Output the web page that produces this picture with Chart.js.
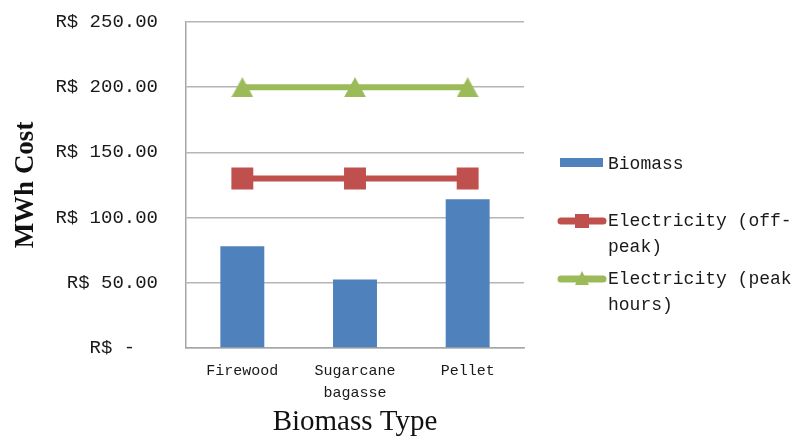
<!DOCTYPE html>
<html>
<head>
<meta charset="utf-8">
<script src="https://cdn.jsdelivr.net/npm/chart.js@4"></script>
<style>
  html, body { margin: 0; padding: 0; background: #ffffff; }
  #wrap { width: 804px; height: 437px; }
</style>
</head>
<body>
<div id="wrap"><canvas id="c" width="804" height="437"></canvas></div>
<script>
// ---- data ----
const categories = [["Firewood"], ["Sugarcane", "bagasse"], ["Pellet"]];
const biomassCost = [78, 52.5, 114];
const offPeakCost = [130, 130, 130];
const peakCost = [200, 200, 200];
const seriesLabels = ["Biomass", "Electricity (off-peak)", "Electricity (peak hours)"];
const legendLines = [["Biomass"], ["Electricity (off-", "peak)"], ["Electricity (peak", "hours)"]];
const yTickMin = 0, yTickMax = 250, yTickStep = 50;
const yAxisTitle = "MWh Cost";
const xAxisTitle = "Biomass Type";

const BLUE = "#4F81BD", RED = "#C0504D", GREEN = "#9BBB59";

// triangle marker with its bounding box centred on the value
function triangleCanvas(w, h, color) {
  const cv = document.createElement("canvas");
  cv.width = w; cv.height = h;
  const g = cv.getContext("2d");
  g.fillStyle = color;
  g.beginPath();
  g.moveTo(w / 2, 0);
  g.lineTo(w, h);
  g.lineTo(0, h);
  g.closePath();
  g.fill();
  return cv;
}
const tri = triangleCanvas(22, 20, GREEN);

const legendPlugin = {
  id: "customLegend",
  afterDraw(chart) {
    const ctx = chart.ctx;
    ctx.save();
    ctx.font = "18px 'Liberation Mono', monospace";
    ctx.fillStyle = "#1a1a1a";
    ctx.textBaseline = "middle";
    ctx.textAlign = "left";
    const textX = 608;
    const items = [
      { y: 164, kind: "bar", color: BLUE, lines: legendLines[0] },
      { y: 221, kind: "rect", color: RED, lines: legendLines[1] },
      { y: 279, kind: "tri", color: GREEN, lines: legendLines[2] }
    ];
    items.forEach(it => {
      if (it.kind === "bar") {
        ctx.fillStyle = it.color;
        ctx.fillRect(560, it.y - 6, 43, 9);
      } else {
        ctx.strokeStyle = it.color;
        ctx.lineWidth = 7;
        ctx.lineCap = "round";
        ctx.beginPath();
        ctx.moveTo(561, it.y);
        ctx.lineTo(603, it.y);
        ctx.stroke();
        ctx.fillStyle = it.color;
        if (it.kind === "rect") {
          ctx.fillRect(575, it.y - 7, 14, 14);
        } else {
          ctx.beginPath();
          ctx.moveTo(582, it.y - 8);
          ctx.lineTo(589, it.y + 6);
          ctx.lineTo(575, it.y + 6);
          ctx.closePath();
          ctx.fill();
        }
      }
      ctx.fillStyle = "#1a1a1a";
      it.lines.forEach((t, i) => ctx.fillText(t, textX, it.y + i * 26));
    });
    ctx.restore();
  }
};

new Chart(document.getElementById("c"), {
  data: {
    labels: categories,
    datasets: [
      {
        type: "line",
        label: seriesLabels[2],
        data: peakCost,
        borderColor: GREEN,
        backgroundColor: GREEN,
        borderWidth: 6,
        pointStyle: tri,
        pointRadius: 10,
        order: 1
      },
      {
        type: "line",
        label: seriesLabels[1],
        data: offPeakCost,
        borderColor: RED,
        backgroundColor: RED,
        borderWidth: 6,
        pointStyle: "rect",
        pointRadius: 15.5,
        pointBorderWidth: 0,
        pointBorderColor: RED,
        pointBackgroundColor: RED,
        order: 2
      },
      {
        type: "bar",
        label: seriesLabels[0],
        data: biomassCost,
        backgroundColor: BLUE,
        borderWidth: 0,
        categoryPercentage: 1,
        barPercentage: 0.39,
        order: 3
      }
    ]
  },
  options: {
    responsive: false,
    animation: false,
    devicePixelRatio: 1,
    layout: { autoPadding: false, padding: { top: 22, right: 280, left: 0, bottom: 0 } },
    plugins: { legend: { display: false }, tooltip: { enabled: false } },
    scales: {
      x: {
        grid: { display: false },
        border: { display: true, color: "#a6a6a6", width: 1.5 },
        ticks: {
          font: { family: "'Liberation Mono', monospace", size: 15, lineHeight: "22px" },
          color: "#1a1a1a",
          padding: 4,
          maxRotation: 0,
          autoSkip: false
        },
        title: {
          display: true,
          text: xAxisTitle,
          font: { family: "'Liberation Serif', serif", size: 29, lineHeight: 1 },
          color: "#111",
          padding: { top: 0, bottom: 0 }
        },
        afterFit(scale) { scale.height = 89; }
      },
      y: {
        min: yTickMin,
        max: yTickMax,
        grid: { color: "#b5b5b5", lineWidth: 1.4, drawTicks: false },
        border: { display: true, color: "#a6a6a6", width: 1.5 },
        ticks: {
          stepSize: yTickStep,
          font: { family: "'Liberation Mono', monospace", size: 19 },
          color: "#1a1a1a",
          padding: 28,
          callback: v => v === 0 ? "R$ -  " : "R$ " + v.toFixed(2)
        },
        title: {
          display: true,
          text: yAxisTitle,
          font: { family: "'Liberation Serif', serif", size: 27, weight: "bold" },
          color: "#111",
          padding: { top: 10, bottom: 0 }
        },
        afterFit(scale) {
          scale.width = 186;
          scale.paddingTop = 11;
          scale.paddingBottom = 11;
        }
      }
    }
  },
  plugins: [legendPlugin]
});
</script>
</body>
</html>
